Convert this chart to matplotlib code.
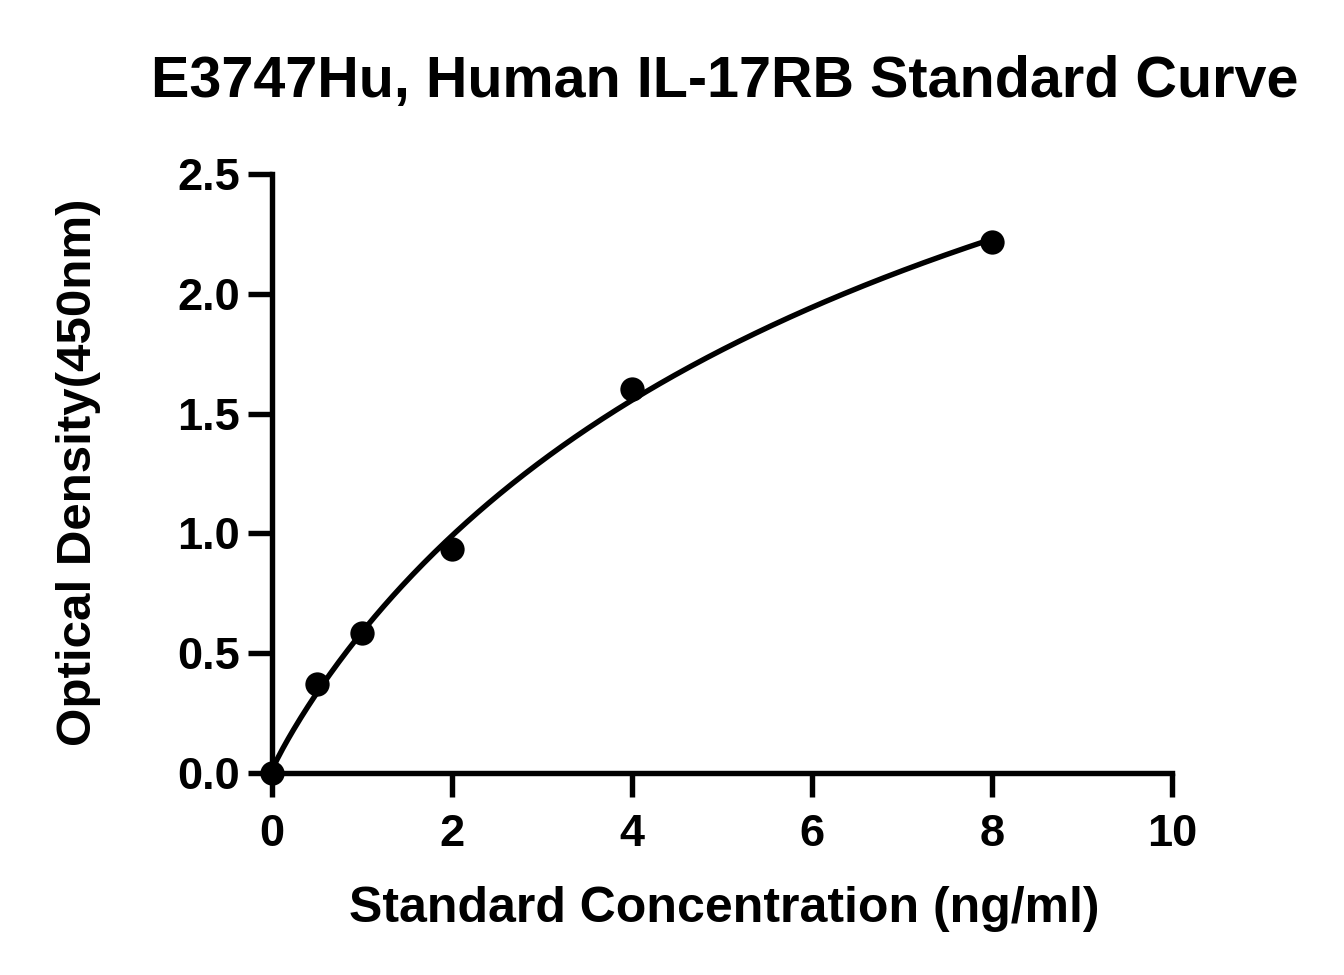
import numpy as np
import matplotlib
matplotlib.use("Agg")
import matplotlib.pyplot as plt

# Data
conc = np.array([0.0, 0.5, 1.0, 2.0, 4.0, 8.0])
od = np.array([0.0, 0.371, 0.584, 0.935, 1.603, 2.216])
x_ticks = [0, 2, 4, 6, 8, 10]
y_ticks = [0.0, 0.5, 1.0, 1.5, 2.0, 2.5]
title = "E3747Hu, Human IL-17RB Standard Curve"
xlabel = "Standard Concentration (ng/ml)"
ylabel = "Optical Density(450nm)"


def four_pl(p, x):
    a, b, logc, d = p
    c = np.exp(logc)
    return d + (a - d) / (1.0 + (np.maximum(x, 0) / c) ** b)


def fit_4pl(x, y):
    p = np.array([0.0, 1.0, np.log(5.0), 3.7])
    lam = 1e-2
    def res(p):
        return four_pl(p, x) - y
    r = res(p)
    cost = r @ r
    for _ in range(500):
        J = np.zeros((len(x), len(p)))
        for k in range(len(p)):
            dp = np.zeros_like(p)
            dp[k] = 1e-6
            J[:, k] = (res(p + dp) - r) / 1e-6
        A = J.T @ J
        g = J.T @ r
        step = np.linalg.solve(A + lam * np.diag(np.diag(A) + 1e-12), -g)
        pn = p + step
        if pn[1] <= 0.05:
            lam *= 10
            continue
        rn = res(pn)
        cn = rn @ rn
        if np.isfinite(cn) and cn < cost:
            p, r, cost = pn, rn, cn
            lam = max(lam / 3, 1e-9)
        else:
            lam *= 5
        if lam > 1e8:
            break
    return p


params = fit_4pl(conc, od)
xs = np.linspace(0, conc.max(), 400)
ys = four_pl(params, xs)

plt.rcParams['font.family'] = ['Liberation Sans', 'DejaVu Sans']
plt.rcParams['font.weight'] = 'bold'

W, H = 1344, 975
fig = plt.figure(figsize=(W / 100, H / 100), dpi=100)
ax = fig.add_axes([272 / W, 1 - 773 / H, 900 / W, 599 / H])

LW = 3.9
ax.plot(xs, ys, color='black', lw=LW, solid_capstyle='round', zorder=2)
ax.plot(conc, od, 'o', color='black', markersize=17.5, markeredgewidth=0,
        zorder=3, clip_on=False)

ax.set_xlim(0, 10)
ax.set_ylim(0, 2.5)
ax.set_xticks(x_ticks)
ax.set_yticks(y_ticks)
ax.set_xticklabels([str(t) for t in x_ticks])
ax.set_yticklabels([f"{t:.1f}" for t in y_ticks])

for s in ['top', 'right']:
    ax.spines[s].set_visible(False)
for s in ['left', 'bottom']:
    ax.spines[s].set_linewidth(LW)
    ax.spines[s].set_capstyle('projecting')

ax.tick_params(axis='both', which='major', direction='out', length=17.3,
               width=LW, labelsize=32.5)
ax.tick_params(axis='y', pad=6)
ax.tick_params(axis='x', pad=12)
for lab in ax.get_xticklabels() + ax.get_yticklabels():
    lab.set_fontweight('bold')

ax.set_xlabel(xlabel, fontsize=36, fontweight='bold', va='baseline')
ax.xaxis.set_label_coords(724 / W, 1 - 922 / H, transform=fig.transFigure)
ax.set_ylabel(ylabel, fontsize=35.5, fontweight='bold', va='baseline')
ax.yaxis.set_label_coords(91 / W, 1 - 472 / H, transform=fig.transFigure)

fig.text(725 / W, 1 - 97 / H, title, fontsize=41.4, fontweight='bold',
         ha='center', va='baseline')

fig.savefig('out.png', dpi=100, facecolor='white')
